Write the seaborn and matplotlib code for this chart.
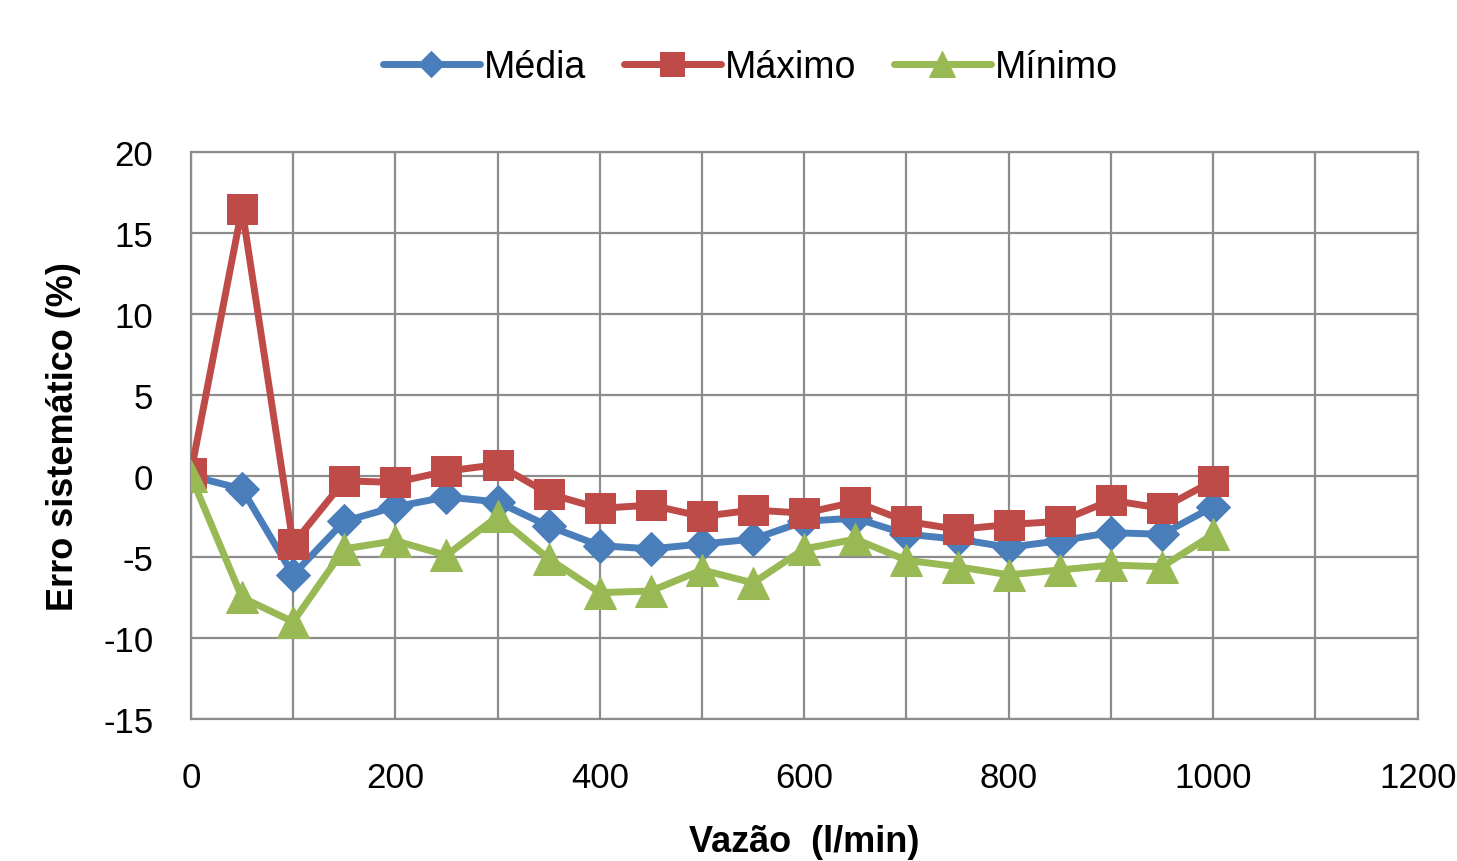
import matplotlib
matplotlib.use("Agg")
import matplotlib.pyplot as plt
import seaborn as sns
import pandas as pd
from matplotlib.ticker import MultipleLocator

vazao = [0, 50, 100, 150, 200, 250, 300, 350, 400, 450, 500, 550, 600, 650, 700, 750, 800, 850, 900, 950, 1000]
media = [0.0, -0.8, -6.1, -2.8, -1.9, -1.3, -1.6, -3.1, -4.3, -4.5, -4.2, -3.9, -2.8, -2.6, -3.6, -3.9, -4.4, -4.0, -3.5, -3.6, -1.9]
maximo = [0.2, 16.5, -4.2, -0.3, -0.4, 0.3, 0.7, -1.1, -2.0, -1.8, -2.5, -2.1, -2.3, -1.6, -2.8, -3.3, -3.0, -2.8, -1.5, -2.0, -0.3]
minimo = [0.0, -7.5, -9.0, -4.5, -4.0, -4.9, -2.5, -5.1, -7.2, -7.1, -5.8, -6.6, -4.5, -3.9, -5.2, -5.6, -6.1, -5.8, -5.5, -5.6, -3.6]
series_names = ["Média", "Máximo", "Mínimo"]
xticks = [0, 200, 400, 600, 800, 1000, 1200]
yticks = [-15, -10, -5, 0, 5, 10, 15, 20]

sns.set_style("white")
plt.rcParams['font.family'] = ['Liberation Sans', 'DejaVu Sans']
plt.rcParams['axes.unicode_minus'] = False
plt.rcParams['text.color'] = 'black'

fig = plt.figure(figsize=(14.57, 8.62), dpi=100)
ax = fig.add_axes([0.131, 0.1647, 0.842, 0.658])

styles = {
    "Média": dict(color="#4A7EBB", marker="D", markersize=17),
    "Máximo": dict(color="#BE4B48", marker="s", markersize=22),
    "Mínimo": dict(color="#98B954", marker="^", markersize=23),
}
values = {"Média": media, "Máximo": maximo, "Mínimo": minimo}

for name in series_names:
    df = pd.DataFrame({"x": vazao, "y": values[name]})
    st = styles[name]
    sns.lineplot(data=df, x="x", y="y", ax=ax, color=st["color"], marker=st["marker"],
                 markersize=st["markersize"], markeredgecolor=st["color"], markerfacecolor=st["color"],
                 linewidth=5, label=name, zorder=3)

ax.set_xlim(0, 1200)
ax.set_ylim(-15, 20)
ax.set_xticks(xticks)
ax.set_yticks(yticks)
ax.xaxis.set_minor_locator(MultipleLocator(100))
ax.grid(True, which="both", color="#8c8c8c", linewidth=1.6)
ax.set_axisbelow(True)
for sp in ax.spines.values():
    sp.set_color("#8c8c8c")
    sp.set_linewidth(1.6)
ax.tick_params(axis="both", which="both", length=0, labelsize=25, colors="black")
ax.tick_params(axis="y", pad=27)
ax.tick_params(axis="x", pad=30)
ax.set_xlabel("Vazão  (l/min)", fontsize=26, fontweight="bold", labelpad=22, color="black")
ax.set_ylabel("Erro sistemático (%)", fontsize=26, fontweight="bold", labelpad=16, color="black")

leg = ax.legend(loc="upper center", bbox_to_anchor=(0.456, 1.24), ncol=3, frameon=False,
                fontsize=27, handlelength=2.6, handletextpad=0.1, columnspacing=1.0, markerscale=0.8)
for t in leg.get_texts():
    t.set_color("black")

fig.savefig("out.png", dpi=100)
